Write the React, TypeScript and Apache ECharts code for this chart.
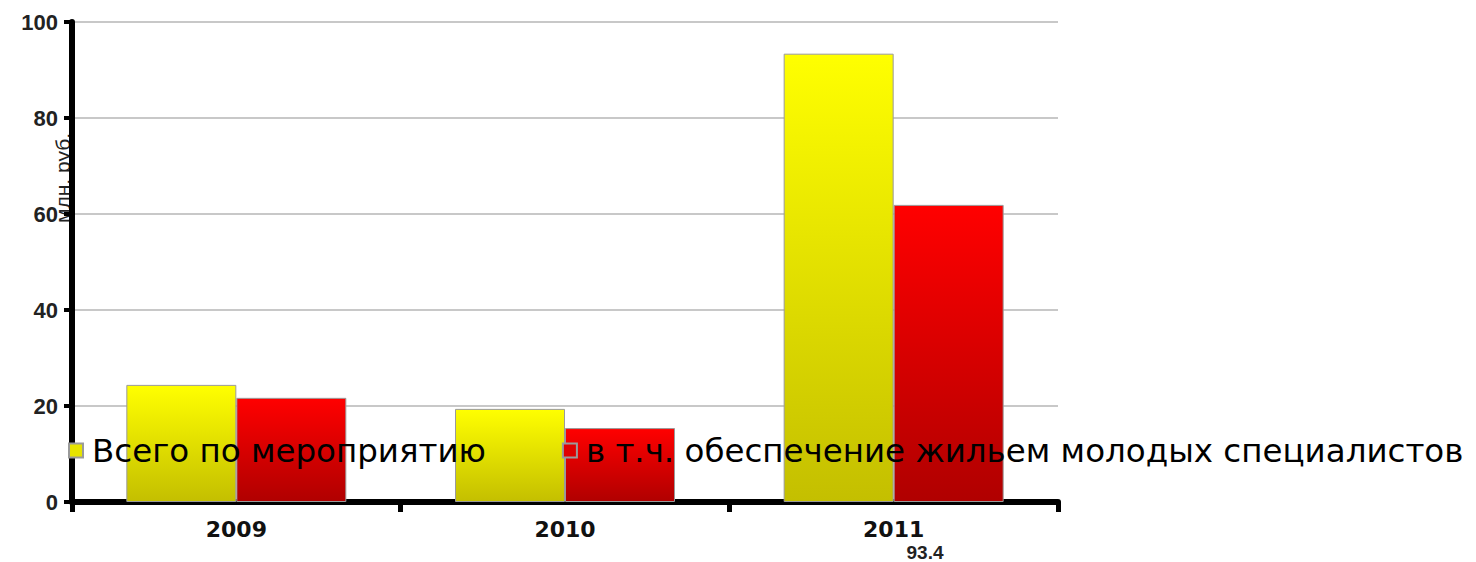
import React, { useEffect, useRef } from "react";
import * as echarts from "echarts";

const categories = ["2009", "2010", "2011"];
const seriesNames = ["Всего по мероприятию", "в т.ч. обеспечение жильем молодых специалистов"];
const totalValues = [24.4, 19.4, 93.4];
const housingValues = [21.7, 15.4, 61.9];
const yTicks = [0, 20, 40, 60, 80, 100];
const axisName = "млн. руб.";
const extraLabel = totalValues[2].toFixed(1);

export default function App() {
  const ref = useRef<HTMLDivElement>(null);
  useEffect(() => {
    if (!ref.current) return;
    const chart = echarts.init(ref.current, null, { renderer: "svg" });
    const yellow = new echarts.graphic.LinearGradient(0, 0, 0, 1, [
      { offset: 0, color: "#ffff00" },
      { offset: 1, color: "#c4bf00" },
    ]);
    const red = new echarts.graphic.LinearGradient(0, 0, 0, 1, [
      { offset: 0, color: "#ff0000" },
      { offset: 1, color: "#b00000" },
    ]);
    chart.setOption({
      animation: false,
      backgroundColor: "#ffffff",
      grid: { left: 72, right: 418, top: 22, bottom: 60, containLabel: false },
      legend: {
        left: 63,
        top: 429,
        width: 1700,
        itemWidth: 14,
        itemHeight: 14,
        itemGap: 76,
        icon: "rect",
        data: [
          { name: seriesNames[0], itemStyle: { color: "#e6e400" } },
          { name: seriesNames[1], itemStyle: { color: "#e00000" } },
        ],
        textStyle: { fontFamily: "DejaVu Sans", fontSize: 32.5, color: "#000000", padding: [0, 0, 0, 4] },
      },
      xAxis: {
        type: "category",
        data: categories,
        axisLine: { lineStyle: { color: "#000000", width: 6 } },
        axisTick: { show: true, length: 10, lineStyle: { color: "#000000", width: 5 } },
        axisLabel: {
          margin: 16,
          fontFamily: "DejaVu Sans",
          fontWeight: "bold",
          fontSize: 22,
          color: "#111111",
        },
        splitLine: { show: false },
      },
      yAxis: {
        type: "value",
        min: yTicks[0],
        max: yTicks[yTicks.length - 1],
        interval: yTicks[1] - yTicks[0],
        axisLine: { show: true, lineStyle: { color: "#000000", width: 6 } },
        axisTick: { show: true, length: 8, lineStyle: { color: "#000000", width: 4 } },
        axisLabel: {
          margin: 14,
          fontFamily: "Liberation Sans",
          fontWeight: "bold",
          fontSize: 22,
          color: "#222222",
        },
        splitLine: { show: true, lineStyle: { color: "#c8c8c8", width: 2 } },
      },
      series: [
        {
          name: seriesNames[0],
          type: "bar",
          data: totalValues,
          barWidth: 110,
          barGap: "0%",
          itemStyle: { color: yellow, borderColor: "#9a9a9a", borderWidth: 1 },
        },
        {
          name: seriesNames[1],
          type: "bar",
          data: housingValues,
          barWidth: 110,
          barGap: "0%",
          itemStyle: { color: red, borderColor: "#9a9a9a", borderWidth: 1 },
        },
      ],
      graphic: [
        {
          type: "text",
          x: 62,
          y: 178,
          rotation: Math.PI / 2,
          z: -1,
          style: {
            text: axisName,
            fontFamily: "Liberation Sans",
            fontSize: 21,
            fill: "#222222",
            align: "center",
            verticalAlign: "middle",
          },
        },
        {
          type: "text",
          x: 925,
          y: 552,
          style: {
            text: extraLabel,
            fontFamily: "Liberation Sans",
            fontWeight: "bold",
            fontSize: 19,
            fill: "#222222",
            align: "center",
            verticalAlign: "middle",
          },
        },
      ],
    });
    return () => chart.dispose();
  }, []);
  return (
    <div
      ref={ref}
      style={{ position: "absolute", left: 0, top: 0, width: 1476, height: 562 }}
    />
  );
}
